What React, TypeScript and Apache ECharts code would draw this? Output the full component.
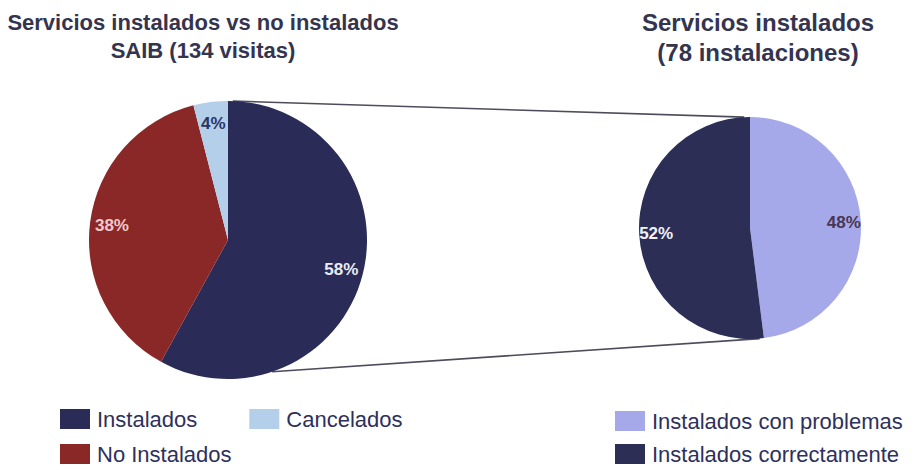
import React, { useEffect, useRef } from "react";
import * as echarts from "echarts";

const leftTitle = ["Servicios instalados vs no instalados", "SAIB (134 visitas)"];
const rightTitle = ["Servicios instalados", "(78 instalaciones)"];

const leftCategories = ["Instalados", "No Instalados", "Cancelados"];
const leftValues = [58, 38, 4];
const rightCategories = ["Instalados con problemas", "Instalados correctamente"];
const rightValues = [48, 52];

const leftColors = ["#2a2c57", "#8a2828", "#b3cfea"];
const leftLabelColors = ["#ececf6", "#f2c8c8", "#2a3566"];
const rightColors = ["#a5a9ea", "#2c2e55"];
const rightLabelColors = ["#4a3552", "#f2f2fa"];

const FONT = "'Liberation Sans', Arial, sans-serif";
const L = { cx: 228, cy: 240, r: 139 };
const R = { cx: 750, cy: 228, r: 111 };

function pointAt(p: { cx: number; cy: number; r: number }, deg: number) {
  const a = (deg * Math.PI) / 180;
  return [p.cx + p.r * Math.cos(a), p.cy - p.r * Math.sin(a)];
}

export default function App() {
  const ref = useRef<HTMLDivElement>(null);
  useEffect(() => {
    document.body.style.margin = "0";
    const chart = echarts.init(ref.current!, null, { renderer: "svg" });

    const mainPie = (p: typeof L, cats: string[], vals: number[], colors: string[]) => ({
      type: "pie",
      center: [p.cx, p.cy],
      radius: [0, p.r],
      startAngle: 90,
      clockwise: true,
      silent: true,
      label: { show: false },
      labelLine: { show: false },
      emphasis: { disabled: true },
      data: cats.map((n, i) => ({ name: n, value: vals[i], itemStyle: { color: colors[i] } })),
    });
    const labelPie = (p: typeof L, cats: string[], vals: number[], lcolors: string[]) => ({
      type: "pie",
      center: [p.cx, p.cy],
      radius: [p.r * 0.64, p.r],
      startAngle: 90,
      clockwise: true,
      silent: true,
      percentPrecision: 0,
      labelLine: { show: false },
      emphasis: { disabled: true },
      itemStyle: { color: "rgba(0,0,0,0)" },
      data: cats.map((n, i) => ({
        name: n,
        value: vals[i],
        itemStyle: { color: "rgba(0,0,0,0)" },
        label: {
          show: true,
          position: "inside",
          formatter: "{d}%",
          color: lcolors[i],
          fontSize: 17,
          fontWeight: "bold",
          fontFamily: FONT,
        },
      })),
    });

    const topA = pointAt(L, 88);
    const topB = pointAt(R, 93);
    const botA = pointAt(L, -71.5);
    const botB = pointAt(R, -85);

    const legendBase = {
      icon: "rect",
      itemWidth: 30,
      itemHeight: 20,
      padding: 0,
      selectedMode: false,
      textStyle: { fontSize: 22, color: "#2e305c", fontFamily: FONT, padding: [0, 0, 0, 2] },
    };

    chart.setOption({
      animation: false,
      backgroundColor: "#ffffff",
      legend: [
        { ...legendBase, data: [leftCategories[0], leftCategories[2]], left: 60, top: 408, itemGap: 52, orient: "horizontal" },
        { ...legendBase, data: [leftCategories[1]], left: 60, top: 443, orient: "horizontal" },
        { ...legendBase, data: rightCategories, left: 615, top: 410, width: 297, height: 90, itemGap: 11, orient: "vertical" },
      ],
      graphic: [
        {
          type: "text",
          x: 203,
          y: 8,
          style: {
            text: leftTitle.join("\n"),
            textAlign: "center",
            textVerticalAlign: "top",
            font: `bold 22px ${FONT}`,
            lineHeight: 28,
            fill: "#34344e",
          },
        },
        {
          type: "text",
          x: 758,
          y: 7,
          style: {
            text: rightTitle.join("\n"),
            textAlign: "center",
            textVerticalAlign: "top",
            font: `bold 24px ${FONT}`,
            lineHeight: 30,
            fill: "#34344e",
          },
        },
        {
          type: "line",
          z: 0,
          shape: { x1: topA[0], y1: topA[1], x2: topB[0], y2: topB[1] },
          style: { stroke: "#4c4c5c", lineWidth: 1.6 },
        },
        {
          type: "line",
          z: 0,
          shape: { x1: botA[0], y1: botA[1], x2: botB[0], y2: botB[1] },
          style: { stroke: "#4c4c5c", lineWidth: 1.6 },
        },
      ],
      series: [
        mainPie(L, leftCategories, leftValues, leftColors),
        mainPie(R, rightCategories, rightValues, rightColors),
        labelPie(L, leftCategories, leftValues, leftLabelColors),
        labelPie(R, rightCategories, rightValues, rightLabelColors),
      ],
    });
    return () => chart.dispose();
  }, []);
  return <div ref={ref} style={{ width: 912, height: 469 }} />;
}
